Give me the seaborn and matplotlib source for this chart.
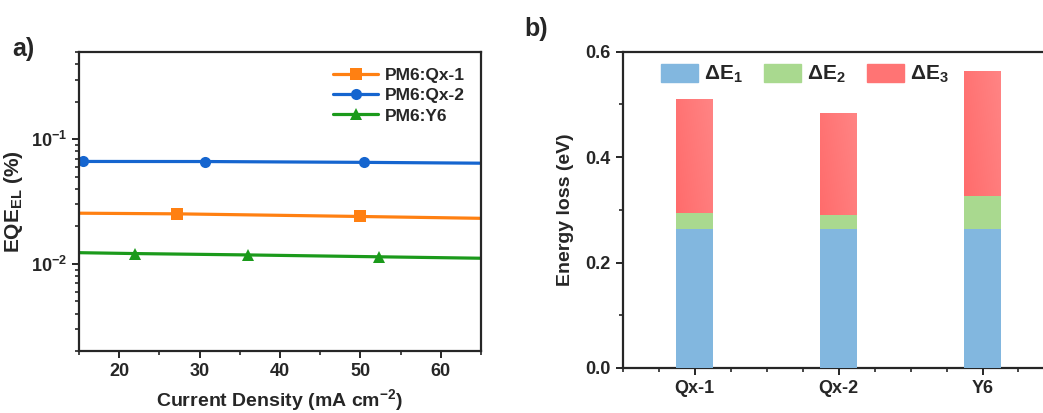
import numpy as np
import pandas as pd
import matplotlib
matplotlib.use("Agg")
import matplotlib.pyplot as plt
import seaborn as sns
from matplotlib.patches import Patch
from matplotlib.colors import LinearSegmentedColormap
from matplotlib.ticker import LogLocator, MultipleLocator, NullFormatter, FormatStrFormatter

# EQE_EL vs current density
qx1_j = [15.0, 27.2, 50.0, 65.0]
qx1_eqe = [0.0255, 0.0252, 0.0240, 0.0232]
qx2_j = [15.5, 30.7, 50.4, 65.0]
qx2_eqe = [0.0663, 0.0662, 0.0652, 0.0642]
y6_j = [15.0, 22.0, 36.0, 52.3, 65.0]
y6_eqe = [0.0123, 0.0121, 0.0118, 0.0114, 0.0111]

# Energy loss components (eV)
materials = ["Qx-1", "Qx-2", "Y6"]
dE1 = [0.263, 0.263, 0.263]
dE2 = [0.030, 0.027, 0.064]
dE3 = [0.218, 0.194, 0.237]

sns.set_style("ticks")
plt.rcParams["font.family"] = ["Liberation Sans", "DejaVu Sans"]
plt.rcParams["font.weight"] = "bold"
plt.rcParams["axes.labelweight"] = "bold"
plt.rcParams["axes.unicode_minus"] = False
plt.rcParams["mathtext.fontset"] = "custom"
plt.rcParams["mathtext.rm"] = "Liberation Sans:bold"
plt.rcParams["mathtext.bf"] = "Liberation Sans:bold"
plt.rcParams["mathtext.default"] = "bf"
plt.rcParams["axes.linewidth"] = 1.6
plt.rcParams["xtick.major.width"] = 1.4
plt.rcParams["ytick.major.width"] = 1.4
plt.rcParams["xtick.minor.width"] = 1.2
plt.rcParams["ytick.minor.width"] = 1.2

fig = plt.figure(figsize=(10.43, 4.13), dpi=100)

# ---- panel a ----
ax1 = fig.add_axes([0.0757, 0.150, 0.3854, 0.724])
series = [
    ("PM6:Qx-1", qx1_j, qx1_eqe, "#ff8012", "s", [1, 2]),
    ("PM6:Qx-2", qx2_j, qx2_eqe, "#1565cf", "o", [0, 1, 2]),
    ("PM6:Y6", y6_j, y6_eqe, "#1b9a1b", "^", [1, 2, 3]),
]
for name, j, eqe, col, mk, every in series:
    df = pd.DataFrame({"J": j, "EQE": eqe})
    sns.lineplot(data=df, x="J", y="EQE", ax=ax1, color=col, marker=mk,
                 markevery=every, markersize=8, linewidth=2.3,
                 markeredgewidth=0, label=name)
ax1.set_yscale("log")
ax1.set_xlim(15, 65)
ax1.set_ylim(0.002, 0.5)
ax1.xaxis.set_major_locator(MultipleLocator(10))
ax1.xaxis.set_minor_locator(MultipleLocator(5))
ax1.yaxis.set_major_locator(LogLocator(base=10, numticks=10))
ax1.yaxis.set_minor_locator(LogLocator(base=10, subs=np.arange(2, 10), numticks=10))
ax1.yaxis.set_minor_formatter(NullFormatter())
ax1.tick_params(axis="both", which="major", labelsize=13, length=5, direction="out")
ax1.tick_params(axis="both", which="minor", length=3, direction="out")
for lab in ax1.get_xticklabels() + ax1.get_yticklabels():
    lab.set_fontweight("bold")
ax1.set_xlabel("Current Density (mA cm$^{-2}$)", fontsize=14, labelpad=5)
ax1.set_ylabel("EQE$_{EL}$ (%)", fontsize=15, labelpad=4)
ax1.legend(loc="upper right", frameon=False, handlelength=2.6,
           handletextpad=0.4, labelspacing=0.3, borderaxespad=0.5,
           prop={"weight": "bold", "size": 12.5})
for s in ax1.spines.values():
    s.set_visible(True)
fig.text(0.012, 0.865, "a)", fontsize=18, fontweight="bold")

# ---- panel b ----
ax2 = fig.add_axes([0.597, 0.109, 0.414, 0.766])
bars = pd.DataFrame({"mat": materials, "e1": dE1, "e2": dE2, "e3": dE3})
bars["top12"] = bars["e1"] + bars["e2"]
bars["total"] = bars["top12"] + bars["e3"]
c1, c2, c3 = "#82b7df", "#a9d98f", "#ff7070"
sns.barplot(data=bars, x="mat", y="total", color=c3, width=0.257, ax=ax2,
            saturation=1, linewidth=0)
red_bars = list(ax2.patches)
sns.barplot(data=bars, x="mat", y="top12", color=c2, width=0.257, ax=ax2,
            saturation=1, linewidth=0)
sns.barplot(data=bars, x="mat", y="e1", color=c1, width=0.257, ax=ax2,
            saturation=1, linewidth=0)
for p in ax2.patches:
    if p not in red_bars:
        p.set_zorder(3)

# soft diagonal gradient on the red segments
red_cmap = LinearSegmentedColormap.from_list("redgrad", ["#ff6262", "#ff8484"])
gx, gy = np.meshgrid(np.linspace(0, 1, 50), np.linspace(0, 1, 50))
grad = 0.5 * gx + 0.5 * gy
for p in red_bars:
    x0, y0 = p.get_x(), p.get_y()
    im = ax2.imshow(grad, cmap=red_cmap, origin="lower", aspect="auto",
                    extent=(x0, x0 + p.get_width(), y0, y0 + p.get_height()),
                    zorder=2, interpolation="bilinear")
    im.set_clip_path(p)

ax2.set_xlim(-0.5, 2.5)
ax2.set_ylim(0, 0.6)
ax2.yaxis.set_major_locator(MultipleLocator(0.2))
ax2.yaxis.set_minor_locator(MultipleLocator(0.1))
ax2.xaxis.set_minor_locator(MultipleLocator(0.25))
ax2.yaxis.set_major_formatter(FormatStrFormatter("%.1f"))
ax2.tick_params(axis="both", which="major", labelsize=13, length=5, direction="out")
ax2.tick_params(axis="both", which="minor", length=3, direction="out")
for lab in ax2.get_xticklabels() + ax2.get_yticklabels():
    lab.set_fontweight("bold")
ax2.set_xlabel("")
ax2.set_ylabel("Energy loss (eV)", fontsize=14, labelpad=8)
for s in ax2.spines.values():
    s.set_visible(True)
handles = [Patch(color=c1, label="ΔE$_1$"), Patch(color=c2, label="ΔE$_2$"),
           Patch(color="#ff7474", label="ΔE$_3$")]
ax2.legend(handles=handles, loc="upper left", ncol=3, frameon=False,
           bbox_to_anchor=(0.089, 0.962), borderpad=0, borderaxespad=0,
           handlelength=1.78, handleheight=1.0, handletextpad=0.3,
           columnspacing=1.0, prop={"weight": "bold", "size": 15})
fig.text(0.503, 0.912, "b)", fontsize=18, fontweight="bold")

fig.savefig("out.png", dpi=100)
